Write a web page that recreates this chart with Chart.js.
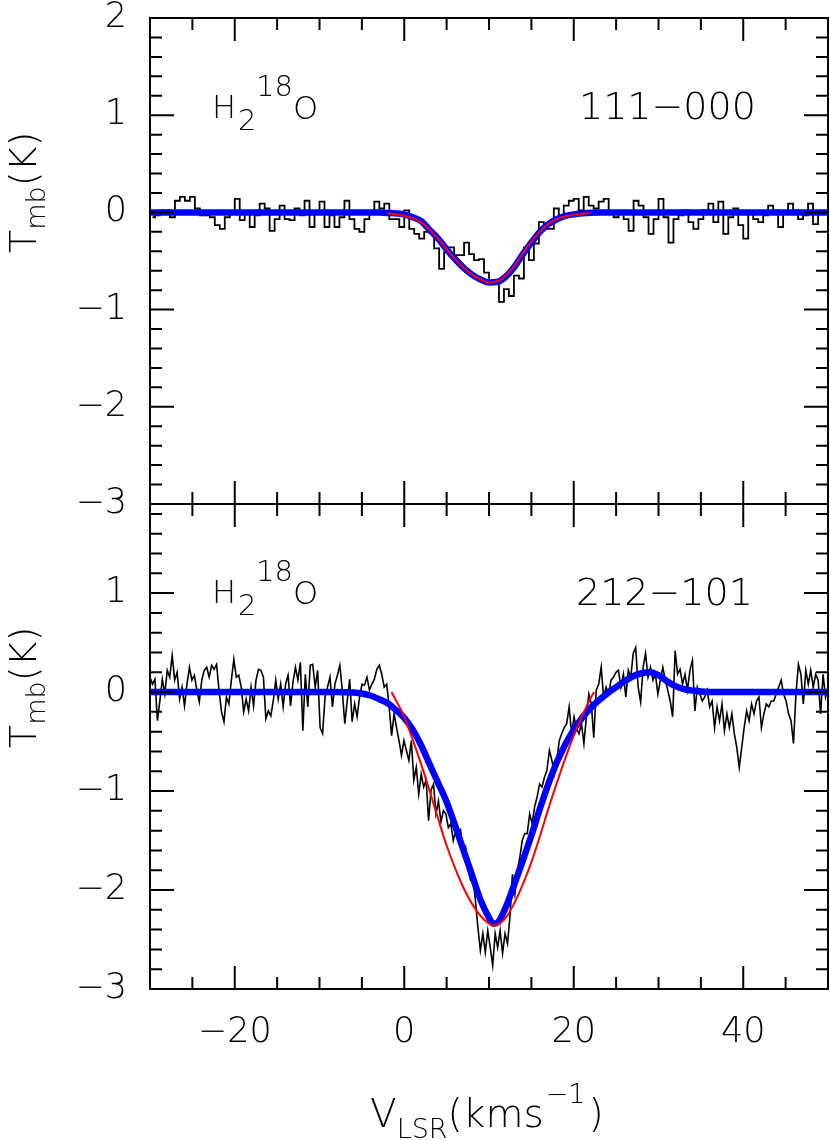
<!DOCTYPE html>
<html>
<head>
<meta charset="utf-8">
<script src="https://cdn.jsdelivr.net/npm/chart.js@4.4.0/dist/chart.umd.min.js"></script>
<style>
  html, body { margin: 0; padding: 0; background: #fff; }
  #wrap { position: relative; width: 830px; height: 1140px; }
  #wrap canvas { position: absolute; left: 0; top: 0; }
</style>
</head>
<body>
<div id="wrap">
  <canvas id="topChart" width="830" height="1140"></canvas>
  <canvas id="botChart" width="830" height="1140"></canvas>
</div>
<script>
var xMin = -30, xMax = 50
var xTickLabels = [-20, 0, 20, 40]
var topYTickLabels = [2, 1, 0, -1, -2, -3]
var botYTickLabels = [1, 0, -1, -2, -3]

// 111-000 spectrum, equal channels across the -30..50 km/s window
var topChannelWidth = 80 / 136
var topSpectrum = [
  -0.05, -0.03, 0.02, 0.02, -0.05, 0.12, 0.16, 0.12, 0.16, 0.04,
  -0.03, -0.03, -0.05, -0.13, -0.17, -0.05, -0.01, 0.14, -0.08, -0.01,
  -0.15, -0.03, 0.09, 0.04, -0.19, -0.07, 0.07, -0.07, -0.08, 0.04,
  -0.03, 0.12, -0.15, 0.0, 0.11, -0.15, -0.03, -0.15, -0.05, 0.12,
  -0.07, -0.17, -0.2, -0.07, 0.0, 0.11, 0.04, 0.09, -0.07, -0.07,
  -0.15, 0.02, -0.17, -0.22, -0.27, -0.2, -0.2, -0.37, -0.58, -0.41,
  -0.36, -0.44, -0.44, -0.31, -0.43, -0.49, -0.48, -0.62,
  -0.72, -0.72, -0.92, -0.79, -0.86, -0.65, -0.68, -0.36, -0.49, -0.32,
  -0.10, -0.17, -0.17, 0.04, -0.03, 0.07, 0.12, 0.14, 0.02, 0.16,
  0.07, 0.04, 0.11, 0.14, -0.01, -0.05, -0.01, -0.07, -0.19, 0.12,
  0.07, -0.05, -0.22, -0.07, 0.14, -0.05, -0.31, -0.07, -0.03, 0.02,
  -0.1, -0.17, -0.07, 0.02, 0.09, -0.1, 0.11, -0.22, -0.05, 0.04,
  -0.13, -0.27, 0.0, -0.07, -0.1, -0.03, 0.07, 0.02, -0.15, 0.0,
  0.09, 0.02, -0.07, -0.03, 0.09, -0.12, -0.01, 0.0
]
var topBlueV = [-30, -3, -2, -1, 0, 1, 2, 3, 4, 5, 6, 7, 8, 9, 10, 11, 12, 13, 14, 15, 16, 17, 18, 19, 20, 21, 22, 23, 50]
var topBlueT = [0, 0, -0.005, -0.01, -0.02, -0.05, -0.09, -0.18, -0.27, -0.38, -0.48, -0.57, -0.64, -0.69, -0.72, -0.715, -0.66, -0.56, -0.43, -0.31, -0.2, -0.12, -0.07, -0.035, -0.02, -0.01, -0.003, 0, 0]
var topRedV = [-2, -1, 0, 1, 2, 3, 4, 5, 6, 7, 8, 9, 10, 11, 12, 13, 14, 15, 16, 17, 18, 19, 20, 21, 22]
var topRedT = [-0.008, -0.02, -0.035, -0.06, -0.1, -0.18, -0.27, -0.38, -0.48, -0.57, -0.64, -0.69, -0.72, -0.71, -0.65, -0.55, -0.42, -0.3, -0.2, -0.12, -0.07, -0.04, -0.025, -0.015, -0.005]

// 212-101 spectrum
var botChannelWidth = 80 / 275
var botSpectrum = [
  0.15, 0.08, 0.13, -0.29, -0.09, 0.13, -0.02, 0.22, 0.15, 0.37,
  0.12, 0.2, -0.07, 0.05, -0.14, 0.08, 0.25, 0.12, 0.17, 0.02,
  -0.1, 0.12, 0.22, 0.25, 0.15, 0.27, 0.23, 0.28, 0.02,
  -0.2, -0.3, -0.05, -0.12, 0.12, 0.33, 0.15, 0.17, 0.05, -0.2,
  -0.07, -0.19, 0.05, -0.14, 0.12, 0.23, 0.22, 0.15, -0.27, -0.19,
  -0.24, -0.09, 0.12, -0.07, 0.08, -0.15, 0.08, 0.17, -0.14, 0.1,
  0.25, 0.12, 0.3, -0.39, 0.18, -0.15, 0.27, 0.28, 0.05, 0.22,
  -0.36, -0.42, -0.05, 0.05, 0.15, -0.15, 0.08, 0.17, 0.27, 0.02,
  -0.32, -0.09, 0.13, -0.3, -0.12, -0.25, -0.05, 0.08, 0.07, 0.15,
  0.02, 0.08, 0.13, 0.23, 0.27, 0.18, 0.05, 0.08, -0.15,
  -0.44, -0.22, -0.36, -0.49, -0.64, -0.49,
  -0.59, -0.69, -0.49, -0.89, -0.76, -1.03, -0.83, -0.96, -0.89, -1.3,
  -0.99, -0.93, -1.23, -1.1, -1.31, -1.2, -1.23, -1.37, -1.33, -1.5,
  -1.4, -1.47, -1.4, -1.63, -1.57, -1.8, -1.9, -1.87, -2.11, -2.38,
  -2.61, -2.44, -2.63, -2.41, -2.58, -2.76, -2.44, -2.58, -2.41, -2.64,
  -2.44, -2.54, -2.27, -1.84, -2.04, -1.8, -1.67, -1.5, -1.43, -1.43,
  -1.23, -1.33, -1.16, -1.06, -0.93, -0.96, -0.86, -0.79, -0.59, -0.69,
  -0.83, -0.69, -0.49, -0.42, -0.36, -0.32, -0.15, -0.42, -0.25, -0.37,
  -0.42, -0.32, -0.52, -0.25, -0.02, -0.12, -0.46, 0.02, 0.08, 0.25,
  -0.05, 0.05, -0.02, 0.12, 0.15, 0.2,
  0.22, 0.05, 0.18, -0.05, 0.22, 0.15, 0.39, 0.45, 0.05, -0.1,
  0.25, 0.39, 0.15, 0.25, 0.12, 0.18, -0.02, 0.12, 0.25, 0.12,
  0.02, -0.09, -0.25, 0.42, 0.18, 0.23, 0.08, 0.18, 0.02, 0.22,
  0.32, -0.19, 0.05, -0.02, -0.09, -0.05, 0.02, -0.15, -0.09, -0.36,
  -0.15, -0.29, -0.12, -0.39, -0.22, -0.36, -0.22, -0.42, -0.56, -0.76,
  -0.56, -0.36, -0.19, -0.29, -0.12, -0.22, -0.09, -0.05, -0.36, -0.22,
  -0.12, -0.15, -0.09, -0.09, -0.02, 0.05, 0.12, -0.02, -0.09, -0.22,
  -0.29, -0.52, -0.02, 0.28, 0.18, -0.12, 0.22, 0.08, 0.22, 0.05,
  0.18, 0.12, -0.22, 0.18, -0.05, 0.05
]
var botBlueV = [-30, -8, -6, -5, -4, -3, -2, -1, 0, 1, 2, 3, 4, 5, 6, 7, 8, 9, 10, 10.5, 11, 12, 13, 14, 15, 16, 17, 18, 19, 20, 21, 22, 23, 24, 25, 26, 27, 28, 29, 30, 31, 32, 33, 34, 35, 36, 50]
var botBlueT = [0, 0, -0.005, -0.015, -0.035, -0.07, -0.11, -0.18, -0.26, -0.38, -0.54, -0.73, -0.92, -1.11, -1.35, -1.6, -1.85, -2.1, -2.28, -2.34, -2.33, -2.17, -1.94, -1.7, -1.45, -1.18, -0.93, -0.71, -0.53, -0.38, -0.26, -0.16, -0.08, -0.01, 0.05, 0.11, 0.16, 0.19, 0.2, 0.17, 0.11, 0.06, 0.03, 0.015, 0.005, 0, 0]
var botRedV = [-1.5, -1, 0, 1, 2, 3, 4, 5, 6, 7, 8, 9, 10, 10.5, 11, 12, 13, 14, 15, 16, 17, 18, 19, 20, 21, 22, 22.4]
var botRedT = [0, -0.08, -0.25, -0.48, -0.73, -1.0, -1.28, -1.55, -1.78, -1.98, -2.14, -2.26, -2.34, -2.36, -2.35, -2.28, -2.13, -1.94, -1.72, -1.46, -1.18, -0.92, -0.67, -0.44, -0.24, -0.06, 0]

var FONT = '"DejaVu Sans"'
var WEIGHT = 200

function pairs(vs, ts) {
  return vs.map(function (v, i) { return {x: v, y: ts[i]} })
}
function channels(vals, width, offset) {
  return vals.map(function (t, i) { return {x: xMin + width * (i + offset), y: t} })
}
function minus(v) {
  return String(v).replace('-', '\u2212')
}
function font(size) {
  return WEIGHT + ' ' + size + 'px ' + FONT
}

// box with inward ticks on all four sides
var frameTicks = {
  id: 'frameTicks',
  afterDatasetsDraw: function (chart) {
    var ctx = chart.ctx, a = chart.chartArea
    var xs = chart.scales.x, ys = chart.scales.y
    ctx.save()
    ctx.strokeStyle = '#000'
    ctx.lineWidth = 2
    ctx.beginPath()
    for (var v = xMin + 5; v < xMax; v += 5) {
      var px = xs.getPixelForValue(v)
      var len = v % 20 === 0 ? 23 : 12
      ctx.moveTo(px, a.top); ctx.lineTo(px, a.top + len)
      ctx.moveTo(px, a.bottom); ctx.lineTo(px, a.bottom - len)
    }
    for (var k = Math.ceil(ys.min * 5); k <= Math.floor(ys.max * 5 + 1e-6); k++) {
      var py = ys.getPixelForValue(k / 5)
      var l = k % 5 === 0 ? 24 : 12
      ctx.moveTo(a.left, py); ctx.lineTo(a.left + l, py)
      ctx.moveTo(a.right, py); ctx.lineTo(a.right - l, py)
    }
    ctx.stroke()
    ctx.strokeRect(a.left, a.top, a.right - a.left, a.bottom - a.top)
    ctx.restore()
  }
}

// pieces of text one after another, dy moves sub/superscripts
function run(ctx, x, y, parts) {
  parts.forEach(function (p) {
    ctx.font = font(p.size)
    x += p.gap || 0
    ctx.fillText(p.text, x, y + (p.dy || 0))
    x += ctx.measureText(p.text).width
  })
}

var panelText = {
  id: 'panelText',
  afterDraw: function (chart, args, o) {
    var ctx = chart.ctx
    ctx.save()
    ctx.fillStyle = '#000'
    ctx.textBaseline = 'alphabetic'
    ctx.textAlign = 'left'
    var s = o.species
    ctx.font = font(32); ctx.fillText('H', s.x, s.y)
    ctx.font = font(29); ctx.fillText('2', s.x + 26, s.y + 12)
    ctx.fillText('18', s.x + 44, s.y - 22)
    ctx.font = font(32); ctx.fillText('O', s.x + 81, s.y + 1)
    ctx.font = font(38)
    ctx.fillText(o.transition.text, o.transition.x, o.transition.y)
    ctx.save()
    ctx.translate(o.yTitle.x, o.yTitle.y)
    ctx.rotate(-Math.PI / 2)
    run(ctx, 0, 0, [{text: 'T', size: 38}, {text: 'mb', size: 27, dy: 9}, {text: '(K)', size: 38}])
    ctx.restore()
    if (o.xTitle) {
      run(ctx, o.xTitle.x, o.xTitle.y, [
        {text: 'V', size: 39},
        {text: 'LSR', size: 27, dy: 11},
        {text: '(kms', size: 39},
        {text: '\u22121', size: 27, dy: -24, gap: 2},
        {text: ')', size: 39, gap: 3}
      ])
    }
    ctx.restore()
  }
}

function makeChart(id, cfg) {
  var yAxis = {
    type: 'linear',
    position: 'left',
    min: cfg.yMin,
    max: cfg.yMax,
    grid: {display: false, drawTicks: false},
    border: {display: false},
    afterFit: function (s) {
      s.width = 150
      s.paddingTop = 0
      s.paddingBottom = 0
    },
    afterBuildTicks: function (s) { s.ticks = cfg.yTicks.map(function (v) { return {value: v} }) },
    ticks: {
      autoSkip: false,
      padding: 23,
      color: '#000',
      font: {family: FONT, size: 35, weight: WEIGHT, lineHeight: 1},
      callback: minus
    }
  }
  var xAxis = {
    type: 'linear',
    min: xMin,
    max: xMax,
    display: cfg.showX,
    grid: {display: false, drawTicks: false},
    border: {display: false},
    afterFit: function (s) {
      s.height = cfg.showX ? 151 : 0
      s.paddingLeft = 0
      s.paddingRight = 0
    },
    afterBuildTicks: function (s) { s.ticks = xTickLabels.map(function (v) { return {value: v} }) },
    ticks: {
      autoSkip: false,
      maxRotation: 0,
      padding: 26,
      color: '#000',
      font: {family: FONT, size: 35, weight: WEIGHT, lineHeight: 1},
      callback: minus
    }
  }
  return new Chart(document.getElementById(id), {
    type: 'line',
    data: {
      datasets: [{
        label: 'fit 2',
        data: cfg.red,
        borderColor: '#ff0000',
        borderWidth: 2,
        cubicInterpolationMode: 'monotone'
      }, {
        label: 'fit 1',
        data: cfg.blue,
        borderColor: '#0000ff',
        borderWidth: 6.5,
        borderJoinStyle: 'round',
        cubicInterpolationMode: 'monotone'
      }, {
        label: 'observed',
        data: cfg.obs,
        borderColor: '#000000',
        borderWidth: cfg.obsWidth,
        stepped: cfg.stepped
      }]
    },
    options: {
      responsive: false,
      animation: false,
      devicePixelRatio: 1,
      layout: {padding: cfg.padding},
      elements: {point: {radius: 0}, line: {fill: false}},
      scales: {x: xAxis, y: yAxis},
      plugins: {
        legend: {display: false},
        tooltip: {enabled: false},
        panelText: cfg.text
      }
    },
    plugins: [frameTicks, panelText]
  })
}

makeChart('topChart', {
  yMin: -3, yMax: 2, yTicks: topYTickLabels, showX: false,
  padding: {top: 18, left: 0, right: 2, bottom: 636},
  obs: channels(topSpectrum, topChannelWidth, 0.5),
  obsWidth: 1.8,
  stepped: 'middle',
  blue: pairs(topBlueV, topBlueT),
  red: pairs(topRedV, topRedT),
  text: {
    species: {x: 212, y: 118},
    transition: {text: '111\u2212000', x: 579, y: 119},
    yTitle: {x: 36, y: 253}
  }
})

makeChart('botChart', {
  yMin: -3, yMax: 1.9, yTicks: botYTickLabels, showX: true,
  padding: {top: 504, left: 0, right: 2, bottom: 0},
  obs: channels(botSpectrum, botChannelWidth, 0),
  obsWidth: 1.6,
  stepped: false,
  blue: pairs(botBlueV, botBlueT),
  red: pairs(botRedV, botRedT),
  text: {
    species: {x: 212, y: 603},
    transition: {text: '212\u2212101', x: 576, y: 605},
    yTitle: {x: 36, y: 748},
    xTitle: {x: 370, y: 1127}
  }
})
</script>
</body>
</html>
